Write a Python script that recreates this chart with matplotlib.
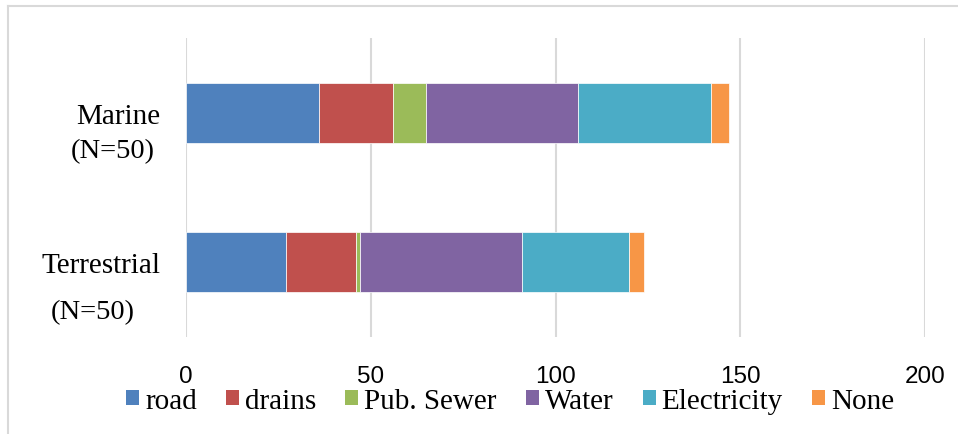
import matplotlib
matplotlib.use("Agg")
import matplotlib.pyplot as plt
from matplotlib.patches import Patch
from matplotlib.lines import Line2D

# Survey groups and infrastructure counts per group
groups = ["Terrestrial", "Marine"]
group_sizes = ["(N=50)", "(N=50)"]
series_names = ["road", "drains", "Pub. Sewer", "Water", "Electricity", "None"]
road = [27, 36]
drains = [19, 20]
pub_sewer = [1, 9]
water = [44, 41]
electricity = [29, 36]
none = [4, 5]
x_ticks = [0, 50, 100, 150, 200]

series_values = [road, drains, pub_sewer, water, electricity, none]
colors = ["#4F81BD", "#C0504D", "#9BBB59", "#8064A2", "#4BACC6", "#F79646"]

W, H = 958, 435
fig = plt.figure(figsize=(W / 100, H / 100), dpi=100)
ax = fig.add_axes([186 / W, (H - 338) / H, (925 - 186) / W, (338 - 39) / H])

ypos = list(range(len(groups)))
left = [0] * len(groups)
for name, vals, c in zip(series_names, series_values, colors):
    ax.barh(ypos, vals, left=left, height=0.4, color=c, edgecolor="white",
            linewidth=0.5, label=name, zorder=3)
    left = [l + v for l, v in zip(left, vals)]

ax.set_xlim(0, 200)
ax.set_ylim(-0.5, 1.5)
ax.set_xticks(x_ticks)
ax.set_xticklabels([str(t) for t in x_ticks], family="Liberation Sans", fontsize=17.5)
ax.set_yticks(ypos)
ax.set_yticklabels(groups, family="Liberation Serif", fontsize=21)
ax.tick_params(axis="y", length=0, pad=18.7)
ax.tick_params(axis="x", length=0, pad=20)
ax.grid(axis="x", color="#D9D9D9", linewidth=1.5, zorder=0)
for s in ax.spines.values():
    s.set_visible(False)

# Sample-size notes under each group name
offsets = {0: (-36.7, -35.3), 1: (-22.3, -27.4)}
for i, note in enumerate(group_sizes):
    ax.annotate(note, xy=(0, ypos[i]), xycoords=("axes fraction", "data"),
                xytext=offsets[i], textcoords="offset points",
                ha="right", va="center", family="Liberation Serif", fontsize=20.5)

handles = [Patch(facecolor=c, edgecolor="none") for c in colors]
fig.legend(handles, series_names, loc="center", ncol=6,
           bbox_to_anchor=(510 / W, (H - 402) / H), frameon=False,
           prop={"family": "Liberation Serif", "size": 21},
           handlelength=0.45, handleheight=0.45, handletextpad=0.2,
           columnspacing=1.0, borderaxespad=0)

# Chart frame (left and top edges)
fig.add_artist(Line2D([8 / W, 8 / W], [0, (H - 7) / H], transform=fig.transFigure,
                      color="#D9D9D9", linewidth=1.5))
fig.add_artist(Line2D([8 / W, 1], [(H - 7) / H, (H - 7) / H], transform=fig.transFigure,
                      color="#D9D9D9", linewidth=1.5))

fig.savefig("out.png", dpi=100, facecolor="white")
